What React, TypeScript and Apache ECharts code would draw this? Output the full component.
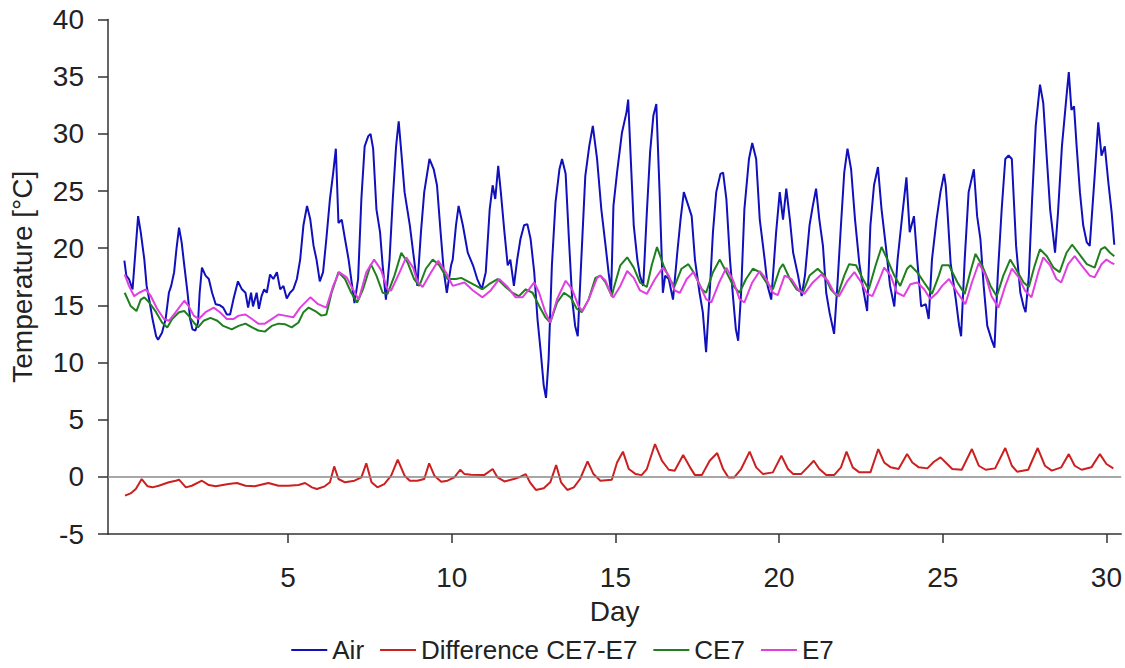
import React, { useEffect, useRef } from "react";
import * as echarts from "echarts";

const xTickValues = [5, 10, 15, 20, 25, 30];
const yMin = -5;
const yMax = 40;
const yStep = 5;
const xMin = -0.5;
const xMax = 30.45;

const seriesNames = ["Air", "Difference CE7-E7", "CE7", "E7"];

const airData: [number, number][] = [
  [0.0, 18.9], [0.06, 17.6], [0.14, 17.3], [0.25, 16.4], [0.42, 22.8], [0.50, 21.4], [0.61, 19.0], [0.68, 16.7],
  [0.76, 15.5], [0.86, 13.8], [0.97, 12.3], [1.03, 12.0], [1.15, 12.6], [1.26, 13.8], [1.36, 16.1], [1.43, 16.7],
  [1.52, 17.9], [1.59, 19.9], [1.67, 21.8], [1.75, 20.5], [1.83, 18.5], [1.93, 16.1], [2.01, 13.8], [2.08, 12.9],
  [2.17, 12.8], [2.25, 13.5], [2.30, 16.1], [2.37, 18.3], [2.48, 17.6], [2.58, 17.3], [2.68, 16.1], [2.79, 15.1],
  [2.92, 15.0], [3.02, 14.8], [3.13, 14.2], [3.23, 14.2], [3.33, 15.5], [3.47, 17.1], [3.59, 16.4], [3.70, 16.1],
  [3.78, 14.8], [3.87, 16.1], [3.93, 14.9], [4.04, 16.1], [4.11, 14.7], [4.19, 15.8], [4.27, 16.4], [4.35, 16.1],
  [4.45, 17.7], [4.55, 17.3], [4.66, 17.9], [4.76, 16.4], [4.86, 16.7], [4.96, 15.6], [5.06, 16.1], [5.16, 16.4],
  [5.27, 17.3], [5.37, 19.0], [5.47, 22.0], [5.58, 23.7], [5.68, 22.5], [5.78, 20.2], [5.87, 19.0], [5.97, 17.1],
  [6.07, 17.9], [6.17, 20.8], [6.28, 24.3], [6.38, 26.6], [6.46, 28.7], [6.54, 22.2], [6.64, 22.5], [6.74, 20.8],
  [6.85, 19.0], [6.93, 17.3], [7.03, 15.2], [7.14, 17.3], [7.24, 24.3], [7.34, 28.9], [7.45, 29.8], [7.52, 30.0],
  [7.60, 28.7], [7.70, 23.4], [7.81, 21.4], [7.89, 18.5], [7.99, 15.5], [8.10, 19.0], [8.20, 24.3], [8.30, 28.9],
  [8.38, 31.1], [8.46, 28.4], [8.56, 24.9], [8.72, 22.0], [8.85, 19.0], [8.95, 16.7], [9.06, 21.4], [9.16, 24.9],
  [9.32, 27.8], [9.45, 26.9], [9.55, 25.5], [9.66, 21.4], [9.76, 17.9], [9.85, 16.1], [9.98, 18.5], [10.03, 19.0],
  [10.13, 22.0], [10.21, 23.7], [10.34, 22.0], [10.49, 19.6], [10.65, 18.5], [10.78, 17.3], [10.92, 16.4], [11.04, 17.9],
  [11.16, 23.4], [11.25, 25.5], [11.33, 24.3], [11.42, 27.2], [11.50, 24.9], [11.61, 21.4], [11.71, 18.5], [11.79, 19.0],
  [11.90, 16.7], [12.00, 19.0], [12.10, 20.8], [12.21, 22.0], [12.31, 22.1], [12.41, 20.8], [12.52, 17.9], [12.62, 13.8],
  [12.72, 10.9], [12.81, 8.0], [12.88, 6.9], [12.96, 10.3], [13.06, 18.5], [13.17, 24.0], [13.29, 26.9], [13.37, 27.8],
  [13.48, 26.5], [13.58, 20.8], [13.68, 15.5], [13.77, 13.2], [13.85, 12.3], [13.95, 18.5], [14.08, 26.3], [14.20, 28.9],
  [14.31, 30.7], [14.44, 27.8], [14.57, 23.4], [14.70, 20.2], [14.79, 17.9], [14.87, 16.1], [14.94, 23.7], [15.05, 26.6],
  [15.20, 30.1], [15.34, 31.9], [15.39, 33.0], [15.46, 28.4], [15.56, 22.0], [15.67, 19.0], [15.75, 17.6], [15.85, 16.7],
  [15.96, 23.1], [16.06, 28.4], [16.16, 31.6], [16.25, 32.6], [16.35, 24.9], [16.45, 16.1], [16.52, 17.6], [16.63, 17.3],
  [16.76, 15.5], [16.89, 19.6], [16.99, 22.5], [17.09, 24.9], [17.23, 23.7], [17.33, 22.8], [17.43, 19.0], [17.57, 16.1],
  [17.67, 14.4], [17.77, 10.9], [17.88, 16.1], [17.98, 21.4], [18.08, 24.9], [18.21, 26.5], [18.29, 26.6], [18.39, 24.3],
  [18.50, 19.0], [18.60, 15.5], [18.68, 12.9], [18.75, 11.9], [18.84, 16.1], [18.94, 23.4], [19.08, 27.8], [19.18, 29.2],
  [19.30, 27.8], [19.41, 22.5], [19.56, 19.0], [19.65, 16.7], [19.76, 15.5], [19.91, 21.4], [20.02, 24.9], [20.12, 22.5],
  [20.22, 25.2], [20.33, 22.5], [20.43, 19.6], [20.58, 17.6], [20.69, 15.8], [20.79, 17.6], [20.93, 22.0], [21.03, 23.7],
  [21.13, 25.2], [21.23, 22.5], [21.34, 20.2], [21.44, 16.1], [21.54, 14.4], [21.68, 12.5], [21.78, 16.7], [21.89, 22.0],
  [21.99, 26.6], [22.09, 28.7], [22.20, 26.9], [22.32, 22.5], [22.45, 18.7], [22.57, 16.4], [22.69, 14.5], [22.79, 22.0],
  [22.90, 25.5], [23.02, 27.1], [23.13, 23.4], [23.26, 20.2], [23.39, 16.7], [23.52, 14.9], [23.62, 19.0], [23.76, 22.8],
  [23.89, 26.2], [23.99, 21.4], [24.12, 22.8], [24.22, 19.0], [24.34, 14.9], [24.48, 15.1], [24.57, 13.8], [24.67, 19.0],
  [24.81, 22.5], [24.93, 24.9], [25.04, 26.5], [25.09, 25.5], [25.14, 23.4], [25.24, 18.7], [25.40, 15.5], [25.50, 13.2],
  [25.56, 12.3], [25.67, 19.0], [25.79, 24.9], [25.95, 26.9], [26.05, 22.8], [26.15, 20.8], [26.25, 16.7], [26.36, 13.2],
  [26.49, 12.0], [26.58, 11.3], [26.68, 17.6], [26.80, 23.4], [26.91, 27.8], [27.01, 28.1], [27.11, 27.8], [27.24, 20.2],
  [27.37, 16.1], [27.47, 14.9], [27.53, 14.4], [27.63, 17.6], [27.73, 24.3], [27.84, 30.7], [27.97, 34.3], [28.07, 32.7],
  [28.18, 27.8], [28.28, 23.4], [28.36, 21.4], [28.43, 19.6], [28.52, 23.1], [28.64, 28.9], [28.78, 33.3], [28.85, 35.4],
  [28.93, 32.1], [29.01, 32.4], [29.09, 28.9], [29.19, 24.9], [29.29, 22.0], [29.40, 20.5], [29.49, 20.2], [29.64, 26.3],
  [29.75, 31.0], [29.85, 28.1], [29.95, 28.9], [30.06, 25.7], [30.16, 23.1], [30.24, 20.3],
];

const diffData: [number, number][] = [
  [0.02, -1.65], [0.19, -1.45], [0.35, -1.07], [0.53, -0.19], [0.71, -0.83], [0.86, -0.92], [1.05, -0.78], [1.36, -0.48],
  [1.57, -0.34], [1.67, -0.25], [1.88, -0.92], [2.06, -0.78], [2.37, -0.34], [2.58, -0.72], [2.79, -0.83], [3.18, -0.63],
  [3.44, -0.54], [3.70, -0.78], [3.98, -0.83], [4.40, -0.54], [4.71, -0.78], [5.01, -0.78], [5.32, -0.72], [5.52, -0.54],
  [5.73, -0.92], [5.88, -1.07], [6.12, -0.83], [6.28, -0.48], [6.41, 0.91], [6.54, -0.19], [6.74, -0.48], [7.03, -0.34],
  [7.24, -0.05], [7.39, 1.18], [7.55, -0.48], [7.73, -0.92], [7.94, -0.63], [8.15, 0.1], [8.35, 1.5], [8.56, 0.1],
  [8.72, -0.34], [8.95, -0.34], [9.16, -0.19], [9.31, 1.18], [9.47, 0.1], [9.68, -0.43], [9.87, -0.34], [10.08, -0.05],
  [10.26, 0.62], [10.39, 0.24], [10.59, 0.18], [10.99, 0.15], [11.25, 0.68], [11.40, -0.05], [11.61, -0.4], [11.90, -0.19],
  [12.10, 0.01], [12.26, 0.24], [12.39, -0.48], [12.57, -1.15], [12.81, -1.0], [13.01, -0.48], [13.19, 1.03], [13.34, -0.48],
  [13.53, -1.15], [13.73, -0.92], [13.92, -0.19], [14.15, 1.35], [14.33, 0.24], [14.54, -0.34], [14.89, -0.25], [15.05, 1.26],
  [15.23, 2.2], [15.41, 0.68], [15.62, 0.24], [15.80, 0.15], [15.96, 0.68], [16.21, 2.87], [16.42, 1.41], [16.63, 0.62],
  [16.81, 0.54], [17.07, 1.91], [17.28, 0.83], [17.43, 0.15], [17.64, 0.15], [17.88, 1.41], [18.11, 2.08], [18.29, 0.68],
  [18.45, -0.05], [18.63, -0.05], [18.84, 0.68], [19.10, 2.2], [19.30, 0.83], [19.51, 0.24], [19.81, 0.39], [20.07, 1.85],
  [20.27, 0.68], [20.43, 0.24], [20.67, 0.24], [20.87, 0.83], [21.06, 1.41], [21.23, 0.68], [21.44, 0.15], [21.68, 0.15],
  [21.89, 0.83], [22.06, 2.2], [22.25, 0.83], [22.45, 0.39], [22.79, 0.39], [23.03, 2.43], [23.21, 1.26], [23.41, 0.83],
  [23.65, 0.68], [23.91, 1.99], [24.07, 1.26], [24.27, 0.83], [24.53, 0.74], [24.73, 1.32], [24.93, 1.7], [25.09, 1.26],
  [25.29, 0.68], [25.58, 0.62], [25.89, 2.43], [26.10, 0.97], [26.31, 0.62], [26.60, 0.74], [26.91, 2.52], [27.11, 0.97],
  [27.27, 0.45], [27.61, 0.62], [27.90, 2.52], [28.12, 0.97], [28.33, 0.54], [28.62, 0.83], [28.85, 1.99], [29.03, 0.97],
  [29.24, 0.62], [29.54, 0.83], [29.80, 1.99], [30.00, 1.12], [30.21, 0.74],
];

const ce7Data: [number, number][] = [
  [0.01, 16.1], [0.19, 14.95], [0.37, 14.5], [0.50, 15.5], [0.61, 15.7], [0.76, 15.25], [0.97, 14.4], [1.15, 13.5],
  [1.31, 13.07], [1.46, 13.8], [1.67, 14.4], [1.83, 14.5], [1.96, 14.1], [2.12, 13.5], [2.25, 13.07], [2.42, 13.65],
  [2.63, 13.9], [2.84, 13.65], [3.02, 13.2], [3.28, 12.9], [3.49, 13.2], [3.70, 13.4], [3.90, 13.07], [4.09, 12.8],
  [4.29, 12.7], [4.50, 13.2], [4.71, 13.4], [4.90, 13.35], [5.11, 13.07], [5.32, 13.5], [5.47, 14.4], [5.63, 14.8],
  [5.83, 14.5], [6.02, 14.1], [6.17, 14.2], [6.33, 16.1], [6.54, 17.9], [6.74, 17.3], [6.93, 16.1], [7.11, 15.25],
  [7.29, 16.4], [7.53, 18.6], [7.70, 17.6], [7.89, 16.1], [8.04, 16.0], [8.25, 17.6], [8.46, 19.6], [8.66, 18.7],
  [8.85, 17.3], [9.01, 16.7], [9.21, 18.2], [9.42, 19.0], [9.62, 18.5], [9.87, 17.3], [10.13, 17.3], [10.29, 17.4],
  [10.49, 17.1], [10.75, 16.7], [10.94, 16.4], [11.14, 16.85], [11.40, 17.3], [11.61, 16.7], [11.85, 16.1], [12.05, 15.8],
  [12.26, 16.4], [12.47, 16.1], [12.67, 14.95], [12.86, 13.95], [13.01, 13.5], [13.22, 15.25], [13.43, 16.1], [13.63, 15.7],
  [13.82, 14.7], [13.97, 14.4], [14.18, 15.5], [14.39, 17.4], [14.54, 17.6], [14.70, 17.0], [14.89, 15.8], [14.94, 16.4],
  [15.15, 18.5], [15.36, 19.2], [15.56, 18.3], [15.75, 17.0], [15.96, 16.6], [16.11, 18.5], [16.27, 20.1], [16.47, 18.5],
  [16.68, 17.15], [16.81, 16.7], [17.02, 18.2], [17.23, 18.6], [17.43, 17.7], [17.64, 16.4], [17.77, 16.1], [17.98, 17.9],
  [18.19, 19.0], [18.39, 17.9], [18.60, 16.7], [18.79, 16.1], [18.99, 17.3], [19.20, 18.2], [19.41, 17.9], [19.61, 17.0],
  [19.81, 16.4], [20.02, 18.2], [20.12, 18.6], [20.33, 17.3], [20.53, 16.4], [20.72, 16.1], [20.93, 17.6], [21.18, 18.2],
  [21.39, 17.6], [21.58, 16.4], [21.78, 15.8], [21.99, 17.6], [22.14, 18.6], [22.35, 18.5], [22.56, 17.3], [22.74, 16.4],
  [22.95, 18.5], [23.13, 20.1], [23.31, 19.0], [23.52, 17.6], [23.70, 16.7], [23.91, 18.2], [24.01, 18.5], [24.22, 17.9],
  [24.43, 17.0], [24.67, 16.0], [24.88, 17.6], [24.98, 18.5], [25.19, 18.5], [25.45, 17.0], [25.67, 16.0], [25.84, 17.9],
  [26.00, 19.5], [26.20, 18.5], [26.46, 16.7], [26.65, 15.8], [26.85, 17.6], [27.06, 19.0], [27.27, 18.0], [27.47, 17.0],
  [27.63, 16.6], [27.81, 18.5], [27.97, 19.9], [28.18, 19.3], [28.38, 18.3], [28.57, 17.9], [28.78, 19.6], [28.95, 20.3],
  [29.14, 19.6], [29.40, 18.6], [29.64, 18.3], [29.83, 19.9], [29.95, 20.1], [30.11, 19.6], [30.24, 19.3],
];

const e7Data: [number, number][] = [
  [0.01, 17.7], [0.14, 16.7], [0.30, 15.8], [0.45, 16.1], [0.66, 16.4], [0.81, 15.8], [1.00, 14.7], [1.21, 13.8],
  [1.36, 13.65], [1.57, 14.4], [1.83, 15.4], [1.96, 14.95], [2.12, 14.1], [2.27, 13.8], [2.48, 14.4], [2.73, 14.8],
  [2.92, 14.4], [3.13, 13.8], [3.33, 13.8], [3.49, 14.1], [3.70, 14.2], [3.90, 13.8], [4.09, 13.4], [4.29, 13.4],
  [4.50, 13.8], [4.71, 14.2], [4.90, 14.1], [5.16, 13.95], [5.37, 14.8], [5.68, 15.7], [5.92, 15.1], [6.17, 14.8],
  [6.38, 16.7], [6.56, 17.9], [6.79, 17.45], [6.98, 16.4], [7.16, 15.5], [7.39, 17.9], [7.63, 19.0], [7.84, 18.1],
  [8.04, 16.4], [8.15, 16.3], [8.41, 17.9], [8.61, 19.2], [8.82, 18.3], [8.95, 17.1], [9.11, 16.6], [9.37, 17.9],
  [9.59, 18.9], [9.82, 17.9], [10.03, 16.7], [10.39, 17.0], [10.65, 16.3], [10.94, 15.7], [11.19, 16.3], [11.45, 17.3],
  [11.71, 16.6], [11.95, 15.7], [12.16, 15.7], [12.36, 16.4], [12.52, 17.0], [12.67, 16.1], [12.86, 14.4], [13.01, 13.5],
  [13.22, 15.55], [13.48, 17.15], [13.68, 16.4], [13.87, 14.95], [13.99, 14.5], [14.18, 15.5], [14.44, 17.4], [14.54, 17.6],
  [14.70, 17.15], [14.89, 15.8], [14.94, 15.7], [15.15, 16.7], [15.36, 18.0], [15.56, 17.4], [15.75, 16.3], [15.96, 16.0],
  [16.21, 17.3], [16.45, 18.3], [16.63, 17.6], [16.81, 16.3], [16.97, 16.1], [17.18, 17.3], [17.38, 17.9], [17.59, 16.7],
  [17.77, 15.55], [17.93, 15.25], [18.17, 17.0], [18.39, 18.3], [18.60, 17.15], [18.79, 15.55], [18.94, 15.25], [19.18, 17.0],
  [19.41, 18.0], [19.61, 17.3], [19.81, 16.1], [19.96, 15.9], [20.17, 17.6], [20.38, 17.3], [20.58, 16.4], [20.77, 16.0],
  [21.03, 17.0], [21.29, 17.7], [21.49, 17.15], [21.68, 16.1], [21.83, 15.8], [22.09, 17.15], [22.30, 17.9], [22.51, 17.0],
  [22.69, 16.0], [22.85, 15.8], [23.05, 17.15], [23.21, 18.3], [23.41, 17.6], [23.60, 16.1], [23.81, 15.8], [24.01, 16.85],
  [24.22, 17.0], [24.43, 16.4], [24.62, 15.55], [24.83, 16.1], [24.98, 16.7], [25.19, 17.3], [25.45, 16.1], [25.69, 15.1],
  [25.89, 17.0], [26.10, 18.7], [26.31, 17.6], [26.49, 15.8], [26.70, 14.8], [26.91, 16.7], [27.11, 18.2], [27.32, 17.45],
  [27.51, 16.3], [27.71, 15.7], [27.92, 17.9], [28.07, 19.2], [28.28, 18.5], [28.47, 17.3], [28.62, 17.0], [28.83, 18.6],
  [29.03, 19.3], [29.24, 18.5], [29.49, 17.6], [29.64, 17.45], [29.85, 18.6], [30.00, 19.0], [30.16, 18.7], [30.24, 18.6],
];

const colors = ["#1010bd", "#cc2020", "#1f7f1f", "#e040e0"];
const FONT = "'Liberation Sans', Arial, sans-serif";

export default function App() {
  const ref = useRef<HTMLDivElement>(null);
  useEffect(() => {
    if (!ref.current) return;
    const chart = echarts.init(ref.current, null, { renderer: "svg" });
    const datasets = [airData, diffData, ce7Data, e7Data];
    chart.setOption({
      animation: false,
      backgroundColor: "#ffffff",
      textStyle: { fontFamily: FONT },
      grid: { left: 107, right: 0.5, top: 19.5, bottom: 134, containLabel: false },
      legend: {
        data: seriesNames,
        left: "center",
        top: 632,
        itemWidth: 36,
        itemHeight: 14,
        itemGap: 16,
        icon: "path://M0,6 L36,6 L36,8 L0,8 Z",
        textStyle: { fontSize: 26, color: "#222", fontFamily: FONT },
      },
      xAxis: {
        type: "value",
        min: xMin,
        max: xMax,
        name: "Day",
        nameLocation: "middle",
        nameGap: 63,
        nameTextStyle: { fontSize: 28, color: "#222", fontFamily: FONT },
        axisLine: { show: true, onZero: false, lineStyle: { color: "#333", width: 1.5 } },
        axisTick: { show: true, length: 9, customValues: xTickValues, lineStyle: { color: "#333", width: 1.5 } },
        axisLabel: { customValues: xTickValues, fontSize: 28, color: "#222", margin: 29, fontFamily: FONT },
        splitLine: { show: false },
      },
      yAxis: {
        type: "value",
        min: yMin,
        max: yMax,
        interval: yStep,
        name: "Temperature [°C]",
        nameLocation: "middle",
        nameGap: 72,
        nameTextStyle: { fontSize: 28, color: "#222", fontFamily: FONT },
        axisLine: { show: true, onZero: false, lineStyle: { color: "#333", width: 1.5 } },
        axisTick: { show: true, length: 10, lineStyle: { color: "#333", width: 1.5 } },
        axisLabel: { fontSize: 28, color: "#222", margin: 24, fontFamily: FONT },
        splitLine: { show: false },
      },
      series: seriesNames.map((name, i) => ({
        name,
        type: "line",
        data: datasets[i],
        symbol: "none",
        showSymbol: false,
        smooth: false,
        color: colors[i],
        lineStyle: { color: colors[i], width: 2 },
        z: i === 0 ? 2 : 3,
        markLine:
          i === 1
            ? {
                silent: true,
                symbol: "none",
                label: { show: false },
                lineStyle: { color: "#8a8a8a", width: 1.5, type: "solid" },
                data: [{ yAxis: 0 }],
              }
            : undefined,
      })),
    });
    return () => chart.dispose();
  }, []);
  return (
    <div
      ref={ref}
      style={{ position: "absolute", left: 0, top: 0, width: 1125, height: 668, background: "#fff" }}
    />
  );
}
